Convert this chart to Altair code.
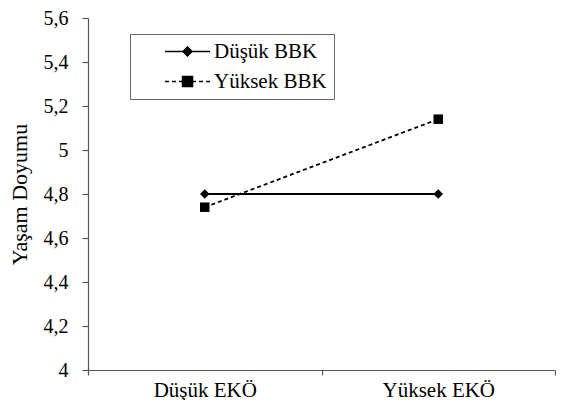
import altair as alt
import pandas as pd

categories = ["Düşük EKÖ", "Yüksek EKÖ"]
series = ["Düşük BBK", "Yüksek BBK"]
dusuk_bbk = [4.80, 4.80]
yuksek_bbk = [4.74, 5.14]
y_ticks = [4.0, 4.2, 4.4, 4.6, 4.8, 5.0, 5.2, 5.4, 5.6]

rows = []
for s, vals in zip(series, [dusuk_bbk, yuksek_bbk]):
    for c, v in zip(categories, vals):
        rows.append({"EKO": c, "BBK": s, "value": v})
df = pd.DataFrame(rows)

FONT = "Liberation Serif"
AX = "#555555"

# legend symbols: line + marker drawn as one custom path
legend_paths = [
    "M2.33,0H8.33M5.33,-0.6L5.93,0L5.33,0.6L4.73,0Z",
    "M2.33,0H2.87M3.27,0H3.8M4.2,0H4.67M6,0H6.47M6.87,0H7.4M7.8,0H8.33"
    "M4.67,-0.67H6V0.67H4.67Z",
]

x_enc = alt.X(
    "EKO:N",
    sort=categories,
    title=None,
    scale=alt.Scale(type="band", paddingInner=0, paddingOuter=0),
    axis=alt.Axis(
        labelAngle=0, tickBand="extent", domainColor=AX, tickColor=AX,
        labelFont=FONT, labelFontSize=21, labelColor="black",
        labelPadding=4, tickSize=5, grid=False, domainWidth=1.2, tickWidth=1.2,
    ),
)
y_enc = alt.Y(
    "value:Q",
    title="Yaşam Doyumu",
    scale=alt.Scale(domain=[4.0, 5.6], nice=False, zero=False),
    axis=alt.Axis(
        values=y_ticks,
        labelExpr="replace(format(datum.value, '.1~f'), '.', ',')",
        domainColor=AX, tickColor=AX, tickSize=6, grid=False,
        labelFont=FONT, labelFontSize=20, labelColor="black", labelPadding=14,
        titleFont=FONT, titleFontSize=22, titleFontWeight="normal",
        titleColor="black", titlePadding=12, domainWidth=1.2, tickWidth=1.2,
    ),
)

base = alt.Chart(df)

lines = base.mark_line(color="black", strokeWidth=1.8).encode(
    x=x_enc,
    y=y_enc,
    strokeDash=alt.StrokeDash(
        "BBK:N", scale=alt.Scale(domain=series, range=[[1, 0], [4, 3]]), legend=None
    ),
)

points = base.mark_point(filled=True, color="black", opacity=1, size=90).encode(
    x=x_enc,
    y=y_enc,
    shape=alt.Shape(
        "BBK:N", scale=alt.Scale(domain=series, range=["diamond", "square"]), legend=None
    ),
)

legend_layer = base.transform_filter("false").mark_point(
    filled=True, fill="black", stroke="black", strokeWidth=1.5, opacity=1
).encode(
    x=x_enc,
    y=y_enc,
    shape=alt.Shape(
        "BBK:N",
        scale=alt.Scale(domain=series, range=legend_paths),
        legend=alt.Legend(
            title=None, orient="none", legendX=42, legendY=16,
            padding=7, strokeColor="#666666", fillColor="white",
            labelFont=FONT, labelFontSize=21, labelColor="black",
            symbolSize=225, symbolStrokeWidth=1.5, labelOffset=56, rowPadding=8,
        ),
    ),
)

chart = (
    alt.layer(lines, points, legend_layer)
    .resolve_scale(shape="independent")
    .properties(
        width=467,
        height=352,
        autosize=alt.AutoSizeParams(type="none"),
        padding={"left": 80, "top": 10, "right": 1, "bottom": 30},
        background="white",
    )
    .configure(font=FONT)
    .configure_axis(labelFont=FONT, titleFont=FONT)
    .configure_legend(labelFont=FONT)
    .configure_view(stroke=None)
)

chart.save("out.html", embed_options={"renderer": "svg", "actions": False})
